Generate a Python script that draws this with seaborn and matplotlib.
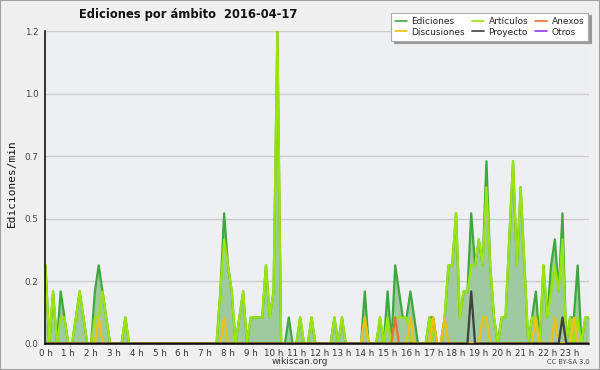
import numpy as np
import pandas as pd
import matplotlib
matplotlib.use('Agg')
import matplotlib.pyplot as plt
import seaborn as sns
from matplotlib.lines import Line2D
from matplotlib.patches import Rectangle
from matplotlib.ticker import MultipleLocator

# ---- data: edits/min in 10-minute slots (144 slots, 0h .. 23h50) ----
ediciones = [
    0.3, 0, 0.2, 0, 0.2, 0.1, 0, 0, 0.1, 0.2, 0.1, 0,
    0, 0.2, 0.3, 0.2, 0.1, 0, 0, 0, 0, 0.1, 0, 0,
    0, 0, 0, 0, 0, 0, 0, 0, 0, 0, 0, 0,
    0, 0, 0, 0, 0, 0, 0, 0, 0, 0, 0.2, 0.5,
    0.3, 0.2, 0, 0.1, 0.2, 0, 0.1, 0.1, 0.1, 0.1, 0.3, 0.1,
    0.2, 1.2, 0, 0, 0.1, 0, 0, 0.1, 0, 0, 0.1, 0,
    0, 0, 0, 0, 0.1, 0, 0.1, 0, 0, 0, 0, 0,
    0.2, 0, 0, 0, 0.1, 0, 0.2, 0, 0.3, 0.2, 0.1, 0.1,
    0.2, 0.1, 0, 0, 0, 0.1, 0.1, 0, 0, 0.1, 0.3, 0.3,
    0.5, 0.1, 0.2, 0.2, 0.5, 0.3, 0.4, 0.3, 0.7, 0.3, 0.1, 0,
    0.1, 0.1, 0.4, 0.7, 0.3, 0.6, 0.3, 0, 0.1, 0.2, 0, 0.3,
    0.1, 0.3, 0.4, 0.2, 0.5, 0, 0.1, 0.1, 0.3, 0, 0.1, 0.1,
]
articulos = [
    0.3, 0, 0.2, 0, 0.1, 0.1, 0, 0, 0.1, 0.2, 0.1, 0,
    0, 0.1, 0.1, 0.2, 0.1, 0, 0, 0, 0, 0.1, 0, 0,
    0, 0, 0, 0, 0, 0, 0, 0, 0, 0, 0, 0,
    0, 0, 0, 0, 0, 0, 0, 0, 0, 0, 0.2, 0.4,
    0.3, 0.2, 0, 0.1, 0.2, 0, 0.1, 0.1, 0.1, 0.1, 0.3, 0.1,
    0.2, 1.2, 0, 0, 0, 0, 0, 0.1, 0, 0, 0.1, 0,
    0, 0, 0, 0, 0.1, 0, 0.1, 0, 0, 0, 0, 0,
    0.1, 0, 0, 0, 0.1, 0, 0.1, 0, 0.1, 0.1, 0.1, 0.1,
    0, 0, 0, 0, 0, 0.1, 0, 0, 0, 0.1, 0.3, 0.3,
    0.5, 0.1, 0.2, 0.2, 0.3, 0.3, 0.4, 0.3, 0.6, 0.3, 0.1, 0,
    0.1, 0.1, 0.4, 0.7, 0.3, 0.6, 0.3, 0, 0.1, 0.1, 0, 0.3,
    0.1, 0.2, 0.3, 0.2, 0.4, 0, 0.1, 0, 0.1, 0, 0.1, 0.1,
]
# sparse series: slot index -> value
anexos_pts = {92: 0.1}
discusiones_pts = {14: 0.1, 47: 0.1, 84: 0.1, 96: 0.1, 102: 0.1, 105: 0.1,
                   115: 0.1, 116: 0.1, 129: 0.1, 134: 0.1, 139: 0.1}
proyecto_pts = {112: 0.2, 136: 0.1}
otros_pts = {}

series_names = ['Ediciones', 'Artículos', 'Anexos', 'Discusiones', 'Proyecto', 'Otros']
colors = ['#3da83d', '#9be60a', '#f07030', '#f0c010', '#404040', '#9933ff']
hour_labels = [f'{h} h' for h in range(24)]
ytick_vals = [0, 0.24, 0.48, 0.72, 0.96, 1.2]
ytick_labels = ['0.0', '0.2', '0.5', '0.7', '1.0', '1.2']

n = len(ediciones)
hours = np.arange(n) / 6.0


def expand(pts):
    arr = np.zeros(n)
    for k, v in pts.items():
        arr[k] = v
    return arr


values = {
    'Ediciones': np.array(ediciones),
    'Artículos': np.array(articulos),
    'Anexos': expand(anexos_pts),
    'Discusiones': expand(discusiones_pts),
    'Proyecto': expand(proyecto_pts),
    'Otros': expand(otros_pts),
}
df = pd.concat([pd.DataFrame({'hora': hours, 'valor': values[s], 'ámbito': s})
                for s in series_names], ignore_index=True)

sns.set_style('white')
plt.rcParams['font.family'] = ['DejaVu Sans']

fig = plt.figure(figsize=(6, 3.7), dpi=100, facecolor='#f0f0f0')
ax = fig.add_axes([0.0758, 0.0716, 0.906, 0.8446])
ax.set_facecolor('#edeff1')

ax.fill_between(hours, 0, values['Ediciones'], color='#9fca9f', lw=0, zorder=1)
draw_order = ['Otros', 'Ediciones', 'Artículos', 'Anexos', 'Discusiones', 'Proyecto']
palette = dict(zip(series_names, colors))
sns.lineplot(data=df, x='hora', y='valor', hue='ámbito', hue_order=draw_order,
             palette=palette, estimator=None, errorbar=None, lw=1.6,
             legend=False, ax=ax, zorder=2)

ax.set_xlim(0, hours[-1])
ax.set_ylim(0, 1.2)
ax.set_xlabel('')
ax.set_ylabel('')

ax.set_xticks(np.arange(24))
ax.set_xticklabels(hour_labels)
ax.xaxis.set_minor_locator(MultipleLocator(1 / 6))
ax.set_yticks(ytick_vals)
ax.set_yticklabels(ytick_labels)
ax.yaxis.set_minor_locator(MultipleLocator(0.048))

ax.tick_params(axis='x', which='both', direction='out', length=3, width=1,
               color='black', labelsize=6.3, labelcolor='#333333', pad=1)
ax.tick_params(axis='y', which='major', direction='out', length=4, width=1,
               color='black', labelsize=6.3, labelcolor='#444444', pad=1)
ax.tick_params(axis='y', which='minor', direction='out', length=2.5, width=1,
               color='black')

ax.yaxis.grid(True, which='major', color='#cccccc', lw=1)
ax.xaxis.grid(False)
ax.set_axisbelow(True)
for s in ['top', 'right']:
    ax.spines[s].set_visible(False)
for s in ['left', 'bottom']:
    ax.spines[s].set_color('black')
    ax.spines[s].set_linewidth(1.1)
    ax.spines[s].set_zorder(5)

fig.text(0.313, 0.962, 'Ediciones por ámbito  2016-04-17', ha='center', va='center',
         fontsize=8.3, fontweight='bold', color='#111111')
fig.text(0.02, 0.505, 'Ediciones/min', rotation=90, ha='center', va='center',
         fontsize=8, family='DejaVu Sans Mono', color='#111111')
fig.text(0.5, 0.024, 'wikiscan.org', ha='center', va='center', fontsize=6.5,
         color='#333333')
fig.text(0.983, 0.022, 'CC BY-SA 3.0', ha='right', va='center', fontsize=4.8,
         color='#444444')

legend_order = ['Ediciones', 'Discusiones', 'Artículos', 'Proyecto', 'Anexos', 'Otros']
handles = [Line2D([0], [0], color=palette[s], lw=1.2) for s in legend_order]
leg = fig.legend(handles, legend_order, ncol=3, loc='upper right',
                 bbox_to_anchor=(0.988, 0.978), fontsize=6.5, frameon=True,
                 fancybox=False, shadow={'color': '#9a9a9a', 'alpha': 1},
                 edgecolor='#aaaaaa', facecolor='white', framealpha=1,
                 handlelength=1.3, handletextpad=0.5, columnspacing=0.8,
                 labelspacing=0.2, borderpad=0.45)
leg.get_frame().set_linewidth(0.8)

fig.patches.append(Rectangle((0, 0), 1, 1, transform=fig.transFigure, fill=False,
                             edgecolor='#a0a0a0', lw=1.5))

fig.savefig('out.png', dpi=100, facecolor=fig.get_facecolor())
